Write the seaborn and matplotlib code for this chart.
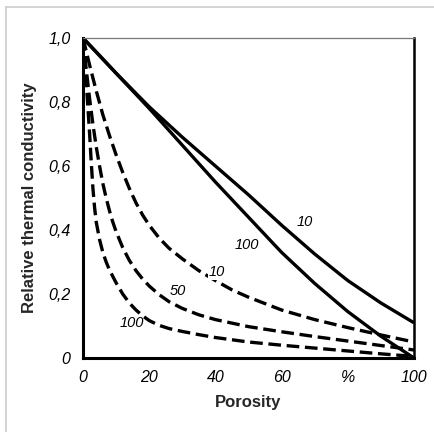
import numpy as np
import pandas as pd
import matplotlib
matplotlib.use("Agg")
import matplotlib.pyplot as plt
import seaborn as sns
from matplotlib.lines import Line2D

# Curves (porosity in %, relative conductivity)
solid_10_x = [0, 10, 20, 30, 40, 50, 60, 70, 80, 90, 100]
solid_10_y = [1.0, 0.89, 0.785, 0.69, 0.60, 0.51, 0.415, 0.325, 0.242, 0.172, 0.11]

solid_100_x = [0, 10, 20, 30, 40, 50, 60, 70, 80, 90, 100]
solid_100_y = [1.0, 0.89, 0.78, 0.665, 0.55, 0.44, 0.33, 0.233, 0.145, 0.068, 0.0]

dashed_10_x = [0, 2, 4, 6, 8, 10, 12, 14, 16, 18, 20, 23, 26, 30, 35, 40, 45, 50,
               60, 70, 80, 90, 100]
dashed_10_y = [1.0, 0.915, 0.835, 0.76, 0.695, 0.635, 0.58, 0.53, 0.485, 0.447, 0.415,
               0.375, 0.343, 0.31, 0.273, 0.242, 0.213, 0.19, 0.15, 0.12, 0.095, 0.072, 0.05]

dashed_50_x = [0, 1, 2, 3, 4, 5, 6, 7, 8, 9, 10, 12, 14, 16, 18, 20, 23, 26, 30, 35,
               40, 50, 60, 70, 80, 90, 100]
dashed_50_y = [1.0, 0.90, 0.81, 0.73, 0.66, 0.60, 0.545, 0.50, 0.46, 0.425, 0.395, 0.345,
               0.305, 0.273, 0.247, 0.225, 0.198, 0.176, 0.155, 0.135, 0.12, 0.098, 0.082,
               0.067, 0.053, 0.039, 0.025]

dashed_100_x = [0, 0.5, 1, 1.5, 2, 2.5, 3, 3.5, 4, 5, 6, 7, 8, 10, 12, 14, 16, 18, 20,
                23, 26, 30, 35, 40, 50, 60, 70, 80, 90, 100]
dashed_100_y = [1.0, 0.93, 0.86, 0.78, 0.70, 0.61, 0.53, 0.47, 0.425, 0.37, 0.33, 0.30,
                0.275, 0.235, 0.20, 0.172, 0.15, 0.132, 0.117, 0.102, 0.092, 0.083, 0.073,
                0.064, 0.05, 0.04, 0.031, 0.022, 0.013, 0.005]

# curve labels and where they sit
curve_labels = ["10", "100", "10", "50", "100"]
label_x = [67.0, 49.5, 40.5, 28.7, 14.8]
label_y = [0.425, 0.353, 0.268, 0.208, 0.109]
label_box = [False, False, True, True, False]

x_ticks = [0, 20, 40, 60, 80, 100]
x_ticklabels = ["0", "20", "40", "60", "%", "100"]
y_ticks = [0, 0.2, 0.4, 0.6, 0.8, 1.0]
y_ticklabels = ["0", "0,2", "0,4", "0,6", "0,8", "1,0"]

sns.set_theme(style="white")
plt.rcParams["font.family"] = ["Liberation Sans", "DejaVu Sans"]

fig = plt.figure(figsize=(4.35, 4.32), dpi=100)
ax = fig.add_axes([83 / 435, 1 - 358 / 432, (414 - 83) / 435, (358 - 38) / 432])

series = [
    (solid_10_x, solid_10_y, "-"),
    (solid_100_x, solid_100_y, "-"),
    (dashed_10_x, dashed_10_y, "--"),
    (dashed_50_x, dashed_50_y, "--"),
    (dashed_100_x, dashed_100_y, "--"),
]
for xs, ys, ls in series:
    df = pd.DataFrame({"Porosity": xs, "Conductivity": ys})
    line_kw = dict(color="black", lw=2.4, solid_capstyle="butt")
    if ls == "--":
        line_kw["dashes"] = (3.8, 1.7)
    sns.lineplot(data=df, x="Porosity", y="Conductivity", ax=ax, estimator=None,
                 sort=False, legend=False, **line_kw)

for txt, lx, ly, boxed in zip(curve_labels, label_x, label_y, label_box):
    box = dict(facecolor="white", edgecolor="none", pad=0.3) if boxed else None
    ax.text(lx, ly, txt, fontsize=10.5, style="italic", ha="center", va="center",
            color="black", bbox=box)

ax.set_xlim(0, 100)
ax.set_ylim(0, 1.0)
ax.set_xticks(x_ticks)
ax.set_xticklabels(x_ticklabels, fontsize=11.5, style="italic")
ax.set_yticks(y_ticks)
ax.set_yticklabels(y_ticklabels, fontsize=11.5, style="italic")
ax.tick_params(axis="both", direction="in", length=7, width=1.5, colors="black")
ax.tick_params(axis="x", pad=9)
ax.tick_params(axis="y", pad=9)

ax.set_xlabel("Porosity", fontsize=12, fontweight="bold", labelpad=7)
ax.set_ylabel("Relative thermal conductivity", fontsize=12, fontweight="bold", labelpad=8)

for side in ["left", "bottom"]:
    ax.spines[side].set_color("black")
    ax.spines[side].set_linewidth(2.2)
ax.spines["right"].set_color("black")
ax.spines["right"].set_linewidth(1.8)
ax.spines["top"].set_color("#777777")
ax.spines["top"].set_linewidth(0.9)

# light frame of the scanned page (left and top edges only)
fig.add_artist(Line2D([6 / 435, 6 / 435], [0, 1 - 7 / 432], transform=fig.transFigure,
                      color="#cccccc", lw=1.2))
fig.add_artist(Line2D([6 / 435, 1], [1 - 7 / 432, 1 - 7 / 432], transform=fig.transFigure,
                      color="#cccccc", lw=1.2))

fig.savefig("out.png", dpi=100)
